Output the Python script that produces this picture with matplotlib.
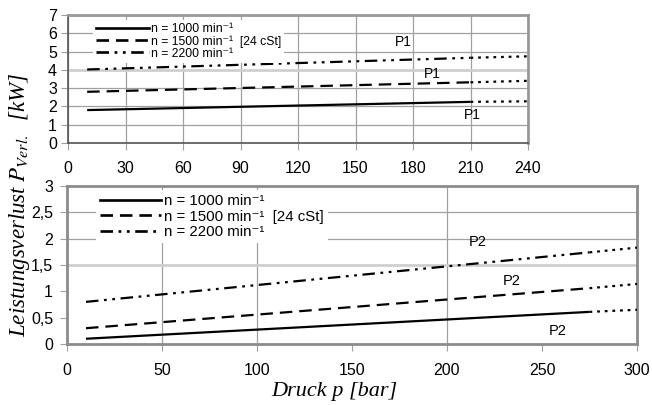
import matplotlib
matplotlib.use("Agg")
import matplotlib.pyplot as plt
from matplotlib.lines import Line2D

plt.rcParams['font.family'] = ['Liberation Sans', 'DejaVu Sans']
plt.rcParams['mathtext.fontset'] = 'stix'
plt.rcParams['lines.scale_dashes'] = False

# ---- data ----
speeds = ["1000", "1500", "2200"]
legend_suffix = ["", "  [24 cSt]", ""]

# top chart (P1): pressure points [start, end of measured line, end of extrapolation]
p1_x = [10, 210, 240]
p1_n1000 = [1.8, 2.25, 2.28]
p1_n1500 = [2.8, 3.32, 3.40]
p1_n2200 = [4.02, 4.66, 4.74]
p1_xticks = [0, 30, 60, 90, 120, 150, 180, 210, 240]
p1_yticks = [0, 1, 2, 3, 4, 5, 6, 7]
p1_label_pos = [(211, 1.55), (190, 3.8), (175, 5.52)]

# bottom chart (P2)
p2_x = [10, 275, 300]
p2_n1000 = [0.1, 0.61, 0.65]
p2_n1500 = [0.3, 1.06, 1.14]
p2_n2200 = [0.8, 1.74, 1.83]
p2_xticks = [0, 50, 100, 150, 200, 250, 300]
p2_yticks = [0, 0.5, 1, 1.5, 2, 2.5, 3]
p2_ytick_labels = ["0", "0,5", "1", "1,5", "2", "2,5", "3"]
p2_label_pos = [(258, 0.24), (234, 1.2), (216, 1.93)]

styles = ['-', (0, (9, 5)), (0, (9, 4, 2, 4, 2, 4))]
dotted = (0, (2, 3.5))
LW = 1.6

fig = plt.figure(figsize=(6.52, 4.05), dpi=100)
W, H = 652, 405

def axes_px(l, t, r, b):
    return fig.add_axes([l / W, 1 - b / H, (r - l) / W, (b - t) / H])

ax1 = axes_px(68, 15, 528, 143)
ax2 = axes_px(67, 186, 637, 344)

def draw(ax, xs, series, label_pos, tag, fs_leg, fs_tag, handlelen, anchor, lsp):
    handles = []
    for i, ys in enumerate(series):
        ax.plot(xs[:2], ys[:2], color='black', lw=LW, linestyle=styles[i],
                solid_capstyle='butt', zorder=3)
        ax.plot(xs[1:], ys[1:], color='black', lw=LW, linestyle=dotted, zorder=3)
        handles.append(Line2D([], [], color='black', lw=LW * 1.2, linestyle=styles[i]))
        lx, ly = label_pos[i]
        ax.text(lx, ly, tag, ha='center', va='center', fontsize=fs_tag, zorder=4)
    labels = ["n = " + s + " min\u207b\u00b9" + suf
              for s, suf in zip(speeds, legend_suffix)]
    leg = ax.legend(handles, labels, loc='upper left', bbox_to_anchor=anchor,
                    borderaxespad=0, frameon=True, fancybox=False,
                    facecolor='white', edgecolor='none', framealpha=1,
                    fontsize=fs_leg, handlelength=handlelen, handletextpad=0.2,
                    labelspacing=lsp, borderpad=0.25)
    leg.set_zorder(5)

draw(ax1, p1_x, [p1_n1000, p1_n1500, p1_n2200], p1_label_pos, "P1",
     8.8, 10, 4.3, ((93 - 68) / 460, 1 - (20 - 15) / 128), 0.0)
draw(ax2, p2_x, [p2_n1000, p2_n1500, p2_n2200], p2_label_pos, "P2",
     10.8, 10.5, 4.1, ((96 - 67) / 570, 1 - (190 - 186) / 158), 0.12)

# axes styling
grid_c = '#a0a0a0'
ax1.set_xlim(0, 240)
ax1.set_ylim(0, 7)
ax1.set_xticks(p1_xticks)
ax1.set_yticks(p1_yticks)
ax1.grid(True, color=grid_c, lw=0.9, zorder=0)
for gl, v in zip(ax1.get_ygridlines(), p1_yticks):
    if v == 4:
        gl.set_color('#cfcfcf'); gl.set_linewidth(2)
ax1.tick_params(axis='x', length=5, color=grid_c, pad=8, labelsize=11.5)
ax1.tick_params(axis='y', length=5, color=grid_c, pad=3, labelsize=11.5)
for s in ['top', 'right']:
    ax1.spines[s].set_color('#999999'); ax1.spines[s].set_linewidth(2)
for s in ['left', 'bottom']:
    ax1.spines[s].set_color('#555555'); ax1.spines[s].set_linewidth(1.2)

ax2.set_xlim(0, 300)
ax2.set_ylim(0, 3)
ax2.set_xticks(p2_xticks)
ax2.set_yticks(p2_yticks)
ax2.set_yticklabels(p2_ytick_labels)
ax2.grid(True, color=grid_c, lw=0.9, zorder=0)
for gl, v in zip(ax2.get_xgridlines(), p2_xticks):
    if v in (150, 250):
        gl.set_visible(False)
for gl, v in zip(ax2.get_ygridlines(), p2_yticks):
    if v in (0.5, 1):
        gl.set_visible(False)
    if v == 1.5:
        gl.set_color('#cfcfcf'); gl.set_linewidth(2)
ax2.tick_params(axis='x', length=5, color=grid_c, pad=8.5, labelsize=11.5)
ax2.tick_params(axis='y', length=5, color=grid_c, pad=5, labelsize=11.5)
for s in ['top', 'right', 'left', 'bottom']:
    ax2.spines[s].set_color('#8c8c8c'); ax2.spines[s].set_linewidth(2)

for ax in (ax1, ax2):
    ax.set_axisbelow(True)

# axis titles
fig.text(20 / W, 1 - 205 / H, r"Leistungsverlust $P_{Verl.}$  [kW]", rotation=90,
         ha='center', va='center', fontsize=16.5, family='Liberation Serif',
         style='italic')
fig.text(334 / W, 1 - 396 / H, "Druck p [bar]", ha='center', va='baseline',
         fontsize=16, family='Liberation Serif', style='italic')

fig.savefig("out.png", dpi=100)
